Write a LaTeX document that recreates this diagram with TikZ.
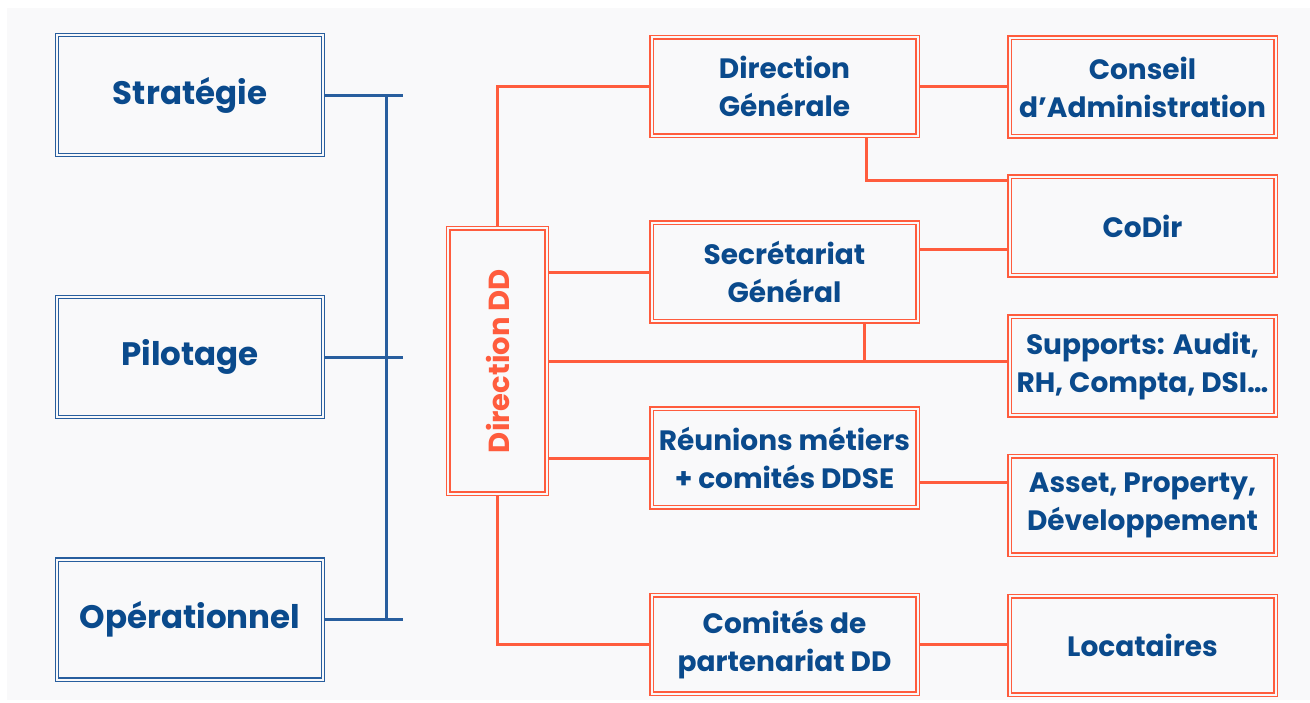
\documentclass[tikz,border=0pt]{standalone}
\usepackage{fontspec}
\setmainfont{Poppins}
\usepackage{tikz}

\definecolor{dblue}{RGB}{10,74,140}
\definecolor{bline}{RGB}{40,94,158}
\definecolor{orng}{RGB}{255,92,61}
\definecolor{panel}{RGB}{249,249,250}

\begin{document}
\begin{tikzpicture}[x=1pt, y=-1pt,
  box/.style = {draw, double=panel, double distance=2pt, line width=1.3pt, outer sep=2.3pt,
                align=center, text=dblue, font=\bfseries\fontsize{28}{38}\selectfont},
  lbox/.style = {box, draw=bline, minimum width=266pt, minimum height=120pt,
                 font=\bfseries\fontsize{32.5}{38}\selectfont},
  obox/.style = {box, draw=orng, minimum width=266pt, minimum height=98.5pt},
  bline/.style = {draw=bline, line width=3pt},
  oline/.style = {draw=orng, line width=3pt}]

% panel
\fill[white] (0,0) rectangle (1310,702);
\fill[panel] (7,8) rectangle (1310,700);
\useasboundingbox (0,0) rectangle (1310,702);

% left column
\node[lbox] (strat) at (190,95) {Stratégie};
\node[lbox] (pilot) at (190,357) {Pilotage};
\node[lbox] (oper) at (190,619.5) {Opérationnel};

% centre
\node[box, draw=orng, minimum width=98.5pt, minimum height=265.5pt] (dd) at (497.5,361) {};
\node[text=orng, rotate=90, font=\bfseries\fontsize{29}{34}\selectfont] (ddt) at (dd) {Direction DD};

% middle column
\node[obox] (dg) at (784.5,86.5) {Direction\\Générale};
\node[obox] (sg) at (784.5,272) {Secrétariat\\Général};
\node[obox] (rm) at (784.5,458) {Réunions métiers\\+ comités DDSE};
\node[obox] (cp) at (784.5,644.5) {Comités de\\partenariat DD};

% right column
\node[obox] (ca) at (1142.5,87) {Conseil\\d’Administration};
\node[obox] (cd) at (1142.5,226) {CoDir};
\node[obox] (sup) at (1142.5,366) {Supports: Audit,\\RH, Compta, DSI…};
\node[obox] (apd) at (1142.5,505.5) {Asset, Property,\\Développement};
\node[obox] (loc) at (1142.5,645.5) {Locataires};

% blue bracket
\coordinate (b1) at (403,95);
\coordinate (b2) at (403,357);
\coordinate (b3) at (403,619.5);
\coordinate (bv1) at (386,95);
\coordinate (bv2) at (386,619.5);
\draw[bline] (strat.east) -- (b1);
\draw[bline] (pilot.east) -- (b2);
\draw[bline] (oper.east) -- (b3);
\draw[bline] (bv1) -- (bv2);

% orange links
\coordinate (k1) at (866,180);
\coordinate (k2) at (0,249);
\coordinate (k3) at (864,361);
\coordinate (k4) at (0,482);
\draw[oline] (dd.north) |- (dg.west);
\draw[oline] (dg.east) -- (dg.east -| ca.west);
\draw[oline] (dg.south -| k1) |- (cd.west |- k1);
\draw[oline] (sg.east |- k2) -- (cd.west |- k2);
\draw[oline] (dd.east |- sg) -- (sg.west);
\draw[oline] (dd.east) -- (sup.west |- dd.east);
\draw[oline] (sg.south -| k3) -- (k3);
\draw[oline] (dd.east |- rm) -- (rm.west);
\draw[oline] (rm.east |- k4) -- (apd.west |- k4);
\draw[oline] (dd.south) |- (cp.west);
\draw[oline] (cp.east) -- (loc.west |- cp.east);
\end{tikzpicture}
\end{document}
